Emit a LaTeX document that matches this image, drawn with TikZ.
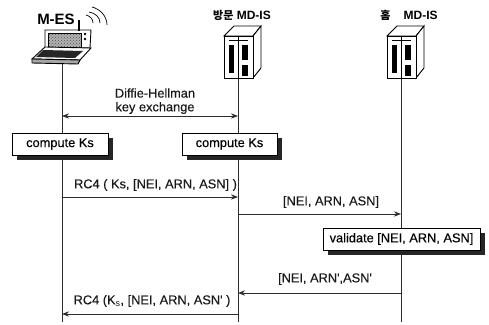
\documentclass[tikz,border=0pt]{standalone}
\usepackage{fontspec}
\setmainfont{Liberation Sans}
\newfontfamily\cjk{Noto Sans CJK KR}
\newfontfamily\heavyfont[FakeBold=0.25]{Liberation Sans}
\usepackage{xcolor}
\usepackage{tikz}
\usetikzlibrary{arrows.meta,shadows,patterns}
\definecolor{inkgray}{RGB}{45,45,45}
\begin{document}
\begin{tikzpicture}[
        x=1pt,y=-1pt,
        life/.style={draw=inkgray,line width=1pt},
        arr/.style={-Stealth,line width=0.9pt,draw=inkgray},
        lbl/.style={inner sep=0pt,text=black!90,font=\heavyfont\fontsize{12.8}{14}\selectfont},
        head/.style={inner sep=0pt,font=\fontsize{15}{17}\selectfont\bfseries},
        headsmall/.style={inner sep=0pt,font=\fontsize{12}{14}\selectfont\bfseries},
        calc/.style={draw=black,fill=white,line width=0.9pt,minimum height=22pt,
                     inner sep=2pt,text centered,font=\heavyfont\fontsize{12.8}{14}\selectfont,
                     drop shadow={shadow xshift=4.5pt,shadow yshift=-4.5pt,
                                  fill=black!85,opacity=1}},
        server/.pic={
          \draw[line width=0.9pt,fill=white] (-14,10)--(-4,0)--(23,0)--(15,10)--cycle;
          \draw[line width=0.9pt,fill=white] (15,10)--(23,0)--(23,42)--(15,52)--cycle;
          \draw[line width=0.9pt,fill=white] (-14,10) rectangle (15,52);
          \draw[line width=0.6pt] (-9,14)--(10,14);
          \fill (-9,19) rectangle (-4,47);
          \fill (4,19) rectangle (10,34);
          \fill (4,39) rectangle (10,50);
        },
      ]
        \useasboundingbox (0,0) rectangle (489,324);
        % laptop
        \draw[line width=0.9pt,fill=white] (45,30)--(91,30)--(90,48)--(45,48)--cycle;
        \fill[black!30] (48,33) rectangle (81,47);
        \fill[pattern=crosshatch dots,pattern color=black!70] (48,33) rectangle (81,47);
        \draw[line width=0.5pt] (48,33) rectangle (81,47);
        \fill (85,34) circle (1.3);
        \fill (85,39) circle (1.3);
        \draw[line width=0.9pt,fill=white] (45,47)--(91,48)--(80,60)--(32,59)--cycle;
        \draw[line width=0.9pt,fill=black!35] (32,59)--(80,60)--(78,64)--(32,63)--cycle;
        \fill[black!85] (43,50)--(83,51)--(75,58)--(36,57)--cycle;
        \draw[line width=2pt] (79,20)--(79,31);
        \draw[line width=0.7pt] (86,15) .. controls (90,16) and (93,19) .. (93,23);
        \draw[line width=0.7pt] (89,12) .. controls (95,13) and (100,17) .. (100,23);
        \draw[line width=0.7pt] (92,7) .. controls (100,9) and (107,16) .. (107,25);
        \coordinate (mesTop) at (62,64);
        \coordinate (mesEnd) at (62,322);
        \coordinate (visitTop) at (238,78);
        \coordinate (visitEnd) at (238,322);
        \coordinate (homeTop) at (401,78);
        \coordinate (homeEnd) at (401,322);
        \draw[life](mesTop)--(mesEnd);
        \draw[life](visitTop)--(visitEnd);
        \draw[life](homeTop)--(homeEnd);
        \pic at (238,26) {server};
        \pic at (401,26) {server};
        \draw[line width=0.6pt] (238,36)--(238,78);
        \draw[line width=0.6pt] (401,36)--(401,78);
        % titles
        \node[head](mes) at (56,19){M-ES};
        \node[headsmall](visit) at (242,15){{\cjk\fontsize{11}{13}\selectfont 방문}\ MD-IS};
        \node[headsmall](home) at (409,15){{\cjk\fontsize{11}{13}\selectfont 홈}\ \ \ \ MD-IS};
        % messages
        \coordinate (a1) at (62,116);
        \coordinate (b1) at (238,116);
        \coordinate (a2) at (62,197);
        \coordinate (b2) at (238,197);
        \coordinate (b3) at (238,214);
        \coordinate (c3) at (401,214);
        \coordinate (c4) at (401,293);
        \coordinate (b4) at (238,293);
        \coordinate (b5) at (238,314);
        \coordinate (a5) at (62,314);
        \draw[arr,Stealth-Stealth](a1)--(b1);
        \draw[arr](a2)--(b2);
        \draw[arr](b3)--(c3);
        \draw[arr](c4)--(b4);
        \draw[arr](b5)--(a5);
        \node[lbl](dh) at (155,93){Diffie-Hellman};
        \node[lbl](kx) at (155,108){key exchange};
        \node[lbl](m1) at (155.5,185){RC4 ( Ks, [NEI, ARN, ASN] )};
        \node[lbl](m2) at (331,202){[NEI, ARN, ASN]};
        \node[lbl](m3) at (325,279){[NEI, ARN',ASN'};
        \node[lbl](m4) at (152,301){RC4 (K$_{\mathrm{s}}$, [NEI, ARN, ASN' )};
        % boxes
        \node[calc,minimum width=96pt](ks1) at (60,144){compute Ks};
        \node[calc,minimum width=95pt](ks2) at (229.5,144){compute Ks};
        \node[calc,minimum width=157pt](val) at (401.5,239){validate [NEI, ARN, ASN]};
      \end{tikzpicture}
\end{document}
